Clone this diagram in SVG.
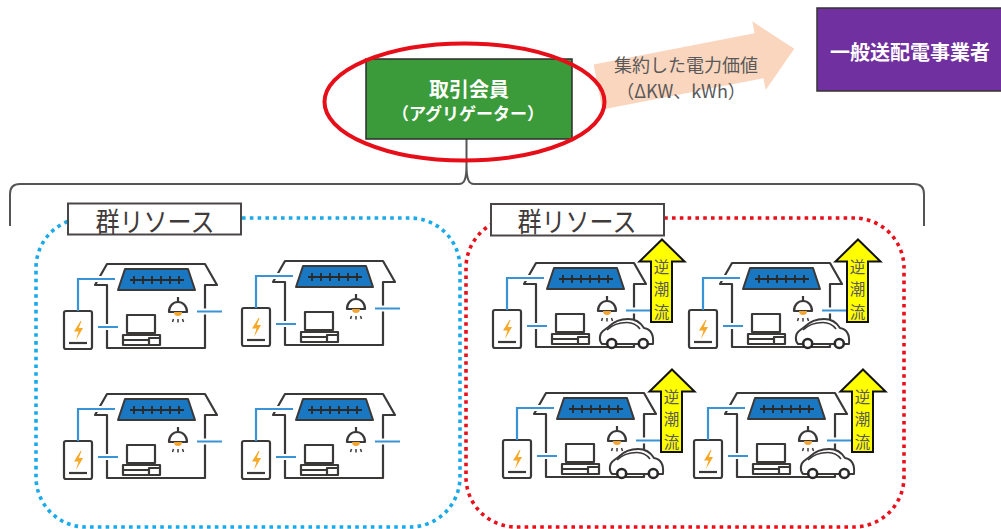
<svg xmlns="http://www.w3.org/2000/svg" width="1001" height="529" viewBox="0 0 1001 529">
<style>
  .jp { font-family: "Noto Sans CJK JP", "Noto Sans", sans-serif; }
  .ln { fill: none; stroke: #3b3838; stroke-width: 2.2; stroke-linejoin: round; }
  .wire { fill: none; stroke: #3a93d4; stroke-width: 2.2; }
  .halo { fill: none; stroke: #ffffff; stroke-width: 6; }
  .grp-label { fill: #ffffff; stroke: #4a4646; stroke-width: 2; }
  .grp-text { font-size: 27px; fill: #3f3b3b; }
  .rev { font-size: 15.5px; fill: #595959; }
  .up-arrow { fill: #ffff00; stroke: #111111; stroke-width: 2; stroke-linejoin: miter; }
  .dots { fill: none; stroke-width: 3.6; stroke-dasharray: 3.6 4.2; }
</style>
<defs>
  <!-- one household: battery, house, PV panel, lamp, PC, wiring -->
  <g id="home">
    <rect x="0" y="47" width="28" height="38" rx="2" class="ln" fill="#fff"/>
    <line x1="5" y1="79" x2="23" y2="79" class="ln"/>
    <path d="M16.5 57 L10 67.5 L14.5 67.5 L12 76 L19 64 L14.8 64 L17.5 57 Z" fill="#f6a828"/>
    <path d="M43 84 V21 H31 L43 0 H141 L153 21 H141 V84 Z" class="ln"/>
    <path d="M61 5 H124 L131 26 H54 Z" fill="#1a78c2" stroke="#3b3838" stroke-width="2" stroke-linejoin="round"/>
    <path d="M66 16 H120 M70 12 V20 M79 12 V20 M88 12 V20 M97 12 V20 M106 12 V20 M115 12 V20" stroke="#2b2828" stroke-width="1.8" fill="none"/>
    <path d="M114 33 V38" class="ln"/>
    <path d="M105 48 C105 42 109 38 114 38 C119 38 123 42 123 48 Z" class="ln" fill="#fff"/>
    <path d="M110 48 A4 4 0 0 0 118 48 Z" fill="#f3a533"/>
    <path d="M109.5 55 L108.5 58 M114 55 V58.5 M118.5 55 L119.5 58" stroke="#3b3838" stroke-width="1.5" fill="none"/>
    <rect x="63" y="51" width="28" height="18" class="ln"/>
    <path d="M73 69 V71 M81 69 V71" class="ln"/>
    <rect x="59" y="71" width="37" height="10" class="ln"/>
    <path d="M59 76 H85 M85 81 V74 H96" class="ln"/>
    <path d="M30 15 H40 M39 63 H47 M137 47.5 H145" class="halo"/>
    <path d="M14 47 V15 H51 M34 63 H54 M133 47.5 H158" class="wire"/>
  </g>
  <!-- EV parked at the house and the reverse-flow arrow -->
  <g id="ev">
    <path d="M109 81 C106 78 106 71 110 68 L116 63.5 C121 58.5 128 56 135 56 C143 56 148 60 151 65 C157 66 161 70 160 81 Z" fill="#fff" stroke="#3b3838" stroke-width="2" stroke-linejoin="round"/>
    <path d="M114 67 C119 62 126 59.5 134 59.5 C140 59.5 144 62 147 66" fill="none" stroke="#3b3838" stroke-width="1.6"/>
    <circle cx="118.7" cy="80.5" r="4.5" fill="#fff" stroke="#2b2828" stroke-width="2.6"/>
    <circle cx="150.3" cy="80.5" r="4.5" fill="#fff" stroke="#2b2828" stroke-width="2.6"/>
    <polygon points="169,-23.5 191.5,-1.5 179,-1.5 179,59 158,59 158,-1.5 146.5,-1.5" class="up-arrow"/>
  </g>
</defs>

<rect width="1001" height="529" fill="#ffffff"/>

<g id="connectors">
  <polygon points="0,-23 164,-23 164,-35 200,0 164,35 164,23 0,23" transform="translate(598 87) rotate(-11)" fill="#fbd6bf"/>
  <text class="jp" x="686" y="63.5" font-size="18" fill="#595959" text-anchor="middle" dominant-baseline="central">集約した電力価値</text>
  <text class="jp" x="681" y="90" font-size="18" fill="#595959" text-anchor="middle" dominant-baseline="central">（ΔKW、kWh）</text>
  <path d="M10 226 V194 Q10 184 20 184 H459 C464 184 466.5 180 466.5 165 V139 M466.5 165 C466.5 180 469 184 474 184 H914 Q924 184 924 194 V226" fill="none" stroke="#555" stroke-width="2"/>
</g>

<g id="aggregator">
  <rect x="366" y="59" width="206" height="80" fill="#3b9a3a" stroke="#2d2d2d" stroke-width="1.5"/>
  <text class="jp" x="469" y="88" font-size="20" font-weight="bold" fill="#fff" text-anchor="middle" dominant-baseline="central">取引会員</text>
  <text class="jp" x="468" y="112.5" font-size="17" font-weight="bold" fill="#fff" text-anchor="middle" dominant-baseline="central">（アグリゲーター）</text>
  <ellipse cx="464.5" cy="102" rx="140" ry="58.5" fill="none" stroke="#e60f19" stroke-width="4"/>
</g>

<g id="grid-operator">
  <rect x="817" y="8" width="190" height="83" fill="#7030a0" stroke="#333" stroke-width="1.5"/>
  <text class="jp" x="910" y="51.5" font-size="20" font-weight="bold" fill="#fff" text-anchor="middle" dominant-baseline="central">一般送配電事業者</text>
</g>

<g id="group-left">
  <rect x="36" y="218" width="424" height="309" rx="50" class="dots" stroke="#1aa9e9"/>
  <rect x="68" y="203.5" width="173" height="31" class="grp-label"/>
  <text class="jp grp-text" x="155" y="220" text-anchor="middle" dominant-baseline="central" textLength="119" lengthAdjust="spacingAndGlyphs">群リソース</text>
</g>

<g id="group-right">
  <rect x="466" y="218" width="438" height="309" rx="50" class="dots" stroke="#e8101b"/>
  <rect x="491" y="204" width="173" height="31.5" class="grp-label"/>
  <text class="jp grp-text" x="577" y="220.5" text-anchor="middle" dominant-baseline="central" textLength="119" lengthAdjust="spacingAndGlyphs">群リソース</text>
</g>

<g id="home-1" transform="translate(64 264)"><use href="#home"/></g>
<g id="home-2" transform="translate(242 261)"><use href="#home"/></g>
<g id="home-3" transform="translate(64 394)"><use href="#home"/></g>
<g id="home-4" transform="translate(242 394)"><use href="#home"/></g>

<g id="home-5" transform="translate(493 263)">
  <use href="#home"/><use href="#ev"/>
  <text class="jp rev" text-anchor="middle" dominant-baseline="central"><tspan x="168.5" y="2.5">逆</tspan><tspan x="168.5" y="25">潮</tspan><tspan x="168.5" y="47.5">流</tspan></text>
</g>
<g id="home-6" transform="translate(689 263)">
  <use href="#home"/><use href="#ev"/>
  <text class="jp rev" text-anchor="middle" dominant-baseline="central"><tspan x="168.5" y="2.5">逆</tspan><tspan x="168.5" y="25">潮</tspan><tspan x="168.5" y="47.5">流</tspan></text>
</g>
<g id="home-7" transform="translate(503 393)">
  <use href="#home"/><use href="#ev"/>
  <text class="jp rev" text-anchor="middle" dominant-baseline="central"><tspan x="168.5" y="2.5">逆</tspan><tspan x="168.5" y="25">潮</tspan><tspan x="168.5" y="47.5">流</tspan></text>
</g>
<g id="home-8" transform="translate(694 393)">
  <use href="#home"/><use href="#ev"/>
  <text class="jp rev" text-anchor="middle" dominant-baseline="central"><tspan x="168.5" y="2.5">逆</tspan><tspan x="168.5" y="25">潮</tspan><tspan x="168.5" y="47.5">流</tspan></text>
</g>
</svg>
